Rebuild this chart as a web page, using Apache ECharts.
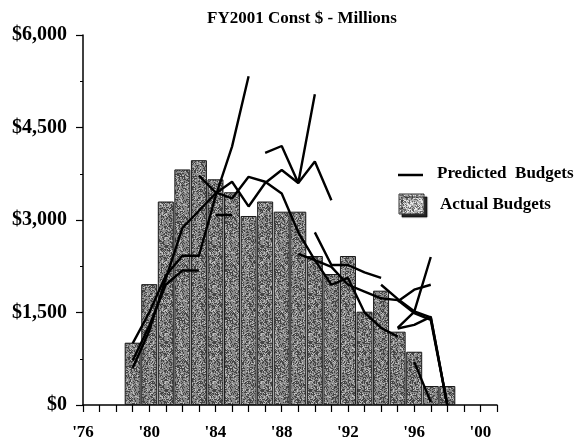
<!DOCTYPE html>
<html>
<head>
<meta charset="utf-8">
<script src="https://cdn.jsdelivr.net/npm/echarts@6/dist/echarts.min.js"></script>
<style>
html,body{margin:0;padding:0;background:#fff;}
#chart{width:582px;height:444px;}
</style>
</head>
<body>
<div id="chart"></div>
<script>
// ---- data ----
const titleText = 'FY2001 Const $ - Millions';
const legendLabels = ['Predicted  Budgets', 'Actual Budgets'];
const years = [1979,1980,1981,1982,1983,1984,1985,1986,1987,1988,1989,1990,1991,1992,1993,1994,1995,1996,1997,1998];
const actualBudgets = [1010,1960,3300,3820,3970,3660,3450,3065,3300,3135,3135,2416,2124,2416,1513,1854,1189,864,308,308];
const yTicks = [0,1500,3000,4500,6000];
const xLabelYears = [1976,1980,1984,1988,1992,1996,2000];

// predicted budget projections: [year, value]
const pred1 = [[1979,1000],[1980,1500],[1981,2100],[1982,2420],[1983,2420],[1984,3380],[1985,4190],[1986,5330]];
const pred2 = [[1979,720],[1980,1280],[1981,1950],[1982,2180],[1983,2180]];
const pred3 = [[1979,600],[1980,1200],[1981,2050],[1982,2870],[1983,3150],[1984,3430],[1985,3620],[1986,3220],[1987,3600],[1988,3810],[1989,3600],[1990,3950],[1991,3320]];
const pred4 = [[1983,3720],[1984,3450],[1985,3350],[1986,3700],[1987,3620],[1988,3430],[1989,2800],[1990,2350],[1991,1950],[1992,2060],[1993,1500],[1994,1250],[1995,1110]];
const pred5 = [[1984,3080],[1985,3080]];
const pred6 = [[1987,4090],[1988,4200],[1989,3600],[1990,5040]];
const pred7 = [[1990,2800],[1991,2270],[1992,2270],[1993,2150],[1994,2060]];
const pred8 = [[1989,2450],[1990,2350],[1991,2240],[1992,1950],[1993,1840],[1994,1730],[1995,1700],[1996,1490],[1997,1380],[1998,0]];
const pred9 = [[1994,1950],[1995,1720],[1996,1520],[1997,1420],[1998,0]];
const pred10 = [[1995,1250],[1996,1510],[1997,2400]];
const pred11 = [[1995,1240],[1996,1300],[1997,1430],[1998,0]];
const pred12 = [[1995,1680],[1996,1870],[1997,1950]];
const pred13 = [[1996,700],[1997,50]];
const predicted = [pred1,pred2,pred3,pred4,pred5,pred6,pred7,pred8,pred9,pred10,pred11,pred12,pred13];

// ---- stipple texture (visual only) ----
function makePattern(base, dark, light, pd, pl) {
  const c = document.createElement('canvas');
  c.width = 48; c.height = 48;
  const ctx = c.getContext('2d');
  ctx.fillStyle = base;
  ctx.fillRect(0,0,48,48);
  let s = 12345;
  function nx(){ s = (s*1103515245 + 12345) & 0x7fffffff; return s/0x7fffffff; }
  for (let y=0;y<48;y++) for (let x=0;x<48;x++) {
    const r = nx();
    if (r < pd) { ctx.fillStyle = dark; ctx.fillRect(x,y,1,1); }
    else if (r > 1-pl) { ctx.fillStyle = light; ctx.fillRect(x,y,1,1); }
  }
  return c;
}
const barPattern = makePattern('#8a8a8a', '#444', '#c0c0c0', 0.34, 0.13);
const legendPattern = makePattern('#b0b0b0', '#666', '#e8e8e8', 0.25, 0.25);

const FONT = 'Liberation Serif';
const chart = echarts.init(document.getElementById('chart'), null, {renderer:'canvas'});

const series = [{
  name: 'Actual Budgets',
  type: 'bar',
  data: years.map((y,i)=>[y, actualBudgets[i]]),
  barWidth: 16,
  itemStyle: { color: {image: barPattern, repeat: 'repeat'}, borderColor: '#1a1a1a', borderWidth: 1 },
  z: 2,
  silent: true
}];
predicted.forEach(p => series.push({
  name: 'Predicted Budgets',
  type: 'line',
  data: p,
  symbol: 'none',
  lineStyle: { color: '#000', width: 2.4 },
  z: 5,
  silent: true
}));

chart.setOption({
  animation: false,
  backgroundColor: '#fff',
  title: {
    text: titleText,
    left: 297, top: 5, textAlign: 'center',
    textStyle: { fontFamily: FONT, fontWeight: 'bold', fontSize: 17, color: '#000' }
  },
  grid: { left: 83, right: 85, top: 35, bottom: 39, containLabel: false },
  graphic: [
    { type: 'line', shape: { x1: 398, y1: 175, x2: 423, y2: 175 }, style: { stroke: '#000', lineWidth: 2.5 }, silent: true },
    { type: 'text', left: 437, top: 165, style: { text: legendLabels[0], fontFamily: FONT, fontWeight: 'bold', fontSize: 17, fill: '#000' }, silent: true },
    { type: 'rect', shape: { x: 399, y: 194, width: 25, height: 20 },
      style: { fill: {image: legendPattern, repeat: 'repeat'}, stroke: '#333', lineWidth: 1, shadowColor: 'rgba(0,0,0,0.85)', shadowOffsetX: 3, shadowOffsetY: 3, shadowBlur: 1 }, silent: true },
    { type: 'text', left: 440, top: 196, style: { text: legendLabels[1], fontFamily: FONT, fontWeight: 'bold', fontSize: 17, fill: '#000' }, silent: true }
  ],
  xAxis: {
    type: 'value',
    min: 1976, max: 2001, interval: 1,
    splitLine: { show: false },
    axisLine: { show: true, lineStyle: { color: '#000', width: 1.5 } },
    axisTick: { show: true, length: 7, lineStyle: { color: '#000', width: 1.2 } },
    axisLabel: {
      margin: 19,
      fontFamily: FONT, fontWeight: 'bold', fontSize: 17, color: '#000',
      showMaxLabel: true, showMinLabel: true,
      formatter: v => xLabelYears.indexOf(v) >= 0 ? "'" + String(v).slice(2) : ''
    }
  },
  yAxis: {
    type: 'value',
    min: yTicks[0], max: yTicks[yTicks.length-1], interval: 1500,
    splitLine: { show: false },
    axisLine: { show: true, lineStyle: { color: '#000', width: 1.5 } },
    axisTick: { show: true, length: 7, lineStyle: { color: '#000', width: 1.2 } },
    minorTick: { show: true, splitNumber: 2, length: 3, lineStyle: { color: '#000' } },
    axisLabel: {
      margin: 16,
      fontFamily: FONT, fontWeight: 'bold', fontSize: 20, color: '#000',
      formatter: v => '$' + v.toLocaleString('en-US')
    }
  },
  series: series
});
</script>
</body>
</html>
